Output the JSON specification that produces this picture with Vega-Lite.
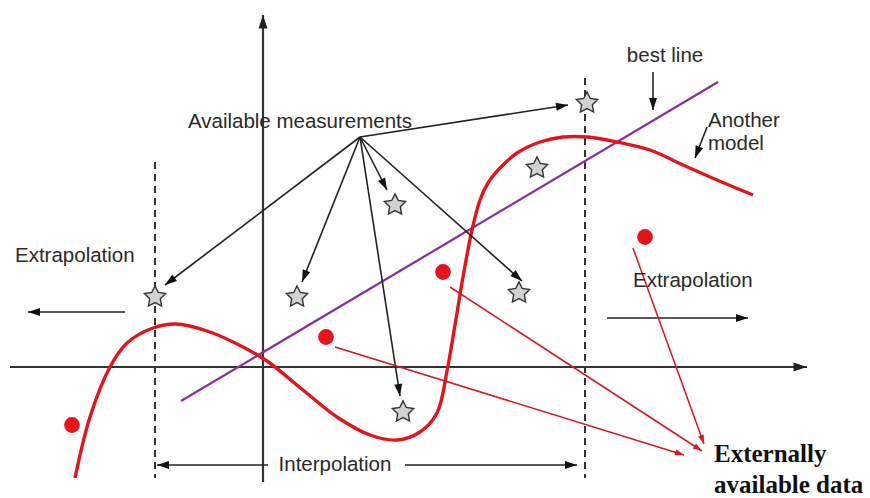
{
  "$schema": "https://vega.github.io/schema/vega-lite/v6.json",
  "autosize": {"type": "fit", "contains": "padding"},
  "width": 870,
  "height": 498,
  "padding": 0,
  "background": "white",
  "config": {"view": {"stroke": null}},
  "datasets": {
    "axes": [
      {"x": -253, "y": 0, "x2": 544, "y2": 0},
      {"x": 0, "y": -115, "x2": 0, "y2": 352}
    ],
    "guides": [
      {"x": -108, "y": 205, "y2": -111},
      {"x": 322, "y": 289, "y2": -111}
    ],
    "pointers": [
      {"x": 97, "y": 230, "x2": -98, "y2": 82},
      {"x": 97, "y": 230, "x2": 39, "y2": 85},
      {"x": 97, "y": 230, "x2": 124, "y2": 177},
      {"x": 97, "y": 230, "x2": 137, "y2": -29},
      {"x": 97, "y": 230, "x2": 259, "y2": 86},
      {"x": 97, "y": 230, "x2": 305, "y2": 262},
      {"x": 390, "y": 295, "x2": 390, "y2": 257},
      {"x": 444, "y": 240, "x2": 432, "y2": 209},
      {"x": 5, "y": -98, "x2": -106, "y2": -98},
      {"x": 142, "y": -98, "x2": 314, "y2": -98},
      {"x": -138, "y": 55, "x2": -235, "y2": 55},
      {"x": 344, "y": 49, "x2": 485, "y2": 49}
    ],
    "feeds": [
      {"x": 72, "y": 20, "x2": 421, "y2": -88},
      {"x": 187, "y": 80, "x2": 439, "y2": -84},
      {"x": 370, "y": 119, "x2": 441, "y2": -77}
    ],
    "trend": [
      {"x": -82, "y": -34, "x2": 455, "y2": 285}
    ],
    "model": [
      {"x": -188, "y": -111},
      {"x": -173, "y": -50},
      {"x": -153, "y": 0},
      {"x": -136, "y": 24},
      {"x": -110, "y": 39},
      {"x": -86, "y": 43},
      {"x": -53, "y": 35},
      {"x": -20, "y": 20},
      {"x": 4, "y": 6},
      {"x": 40, "y": -23},
      {"x": 74, "y": -50},
      {"x": 107, "y": -68},
      {"x": 134, "y": -73},
      {"x": 157, "y": -65},
      {"x": 174, "y": -46},
      {"x": 184, "y": -4},
      {"x": 192, "y": 42},
      {"x": 200, "y": 90},
      {"x": 209, "y": 137},
      {"x": 217, "y": 167},
      {"x": 225, "y": 184},
      {"x": 237, "y": 199},
      {"x": 254, "y": 214},
      {"x": 277, "y": 225},
      {"x": 300, "y": 230},
      {"x": 324, "y": 230},
      {"x": 354, "y": 225},
      {"x": 387, "y": 217},
      {"x": 420, "y": 202},
      {"x": 454, "y": 187},
      {"x": 490, "y": 172}
    ],
    "measurements": [
      {"x": -108, "y": 70},
      {"x": 34, "y": 70},
      {"x": 140, "y": -45},
      {"x": 256, "y": 74},
      {"x": 274, "y": 199},
      {"x": 324, "y": 264},
      {"x": 132, "y": 162}
    ],
    "external": [
      {"x": -191, "y": -58},
      {"x": 63, "y": 30},
      {"x": 180, "y": 95},
      {"x": 382, "y": 130}
    ],
    "centerLabels": [
      {"x": 37, "y": 239, "label": "Available measurements"},
      {"x": 402, "y": 305, "label": "best line"},
      {"x": 72, "y": -104, "label": "Interpolation"}
    ],
    "leftLabels": [
      {"x": -248, "y": 105, "label": "Extrapolation"},
      {"x": 370, "y": 80, "label": "Extrapolation"},
      {"x": 445, "y": 240, "label": "Another"},
      {"x": 445, "y": 217, "label": "model"}
    ],
    "callout": [
      {"x": 451, "y": -95, "label": "Externally"},
      {"x": 451, "y": -126, "label": "available data"}
    ]
  },
  "encoding": {
    "x": {"field": "x", "type": "quantitative", "axis": null,
          "scale": {"domain": [-263, 607], "nice": false, "zero": false}},
    "y": {"field": "y", "type": "quantitative", "axis": null,
          "scale": {"domain": [-131, 367], "nice": false, "zero": false}}
  },
  "layer": [
    {
      "data": {"name": "guides"},
      "mark": {"type": "rule", "color": "#333333", "strokeWidth": 2, "strokeDash": [7, 5]},
      "encoding": {"y2": {"field": "y2"}}
    },
    {
      "data": {"name": "axes"},
      "transform": [{"calculate": "atan2(datum.x2 - datum.x, datum.y2 - datum.y) * 180 / PI", "as": "heading"}],
      "layer": [
        {
          "mark": {"type": "rule", "color": "#333333", "strokeWidth": 2.2},
          "encoding": {"x2": {"field": "x2"}, "y2": {"field": "y2"}}
        },
        {
          "mark": {"type": "point", "shape": "M0,0L0.5,1.5L-0.5,1.5Z", "filled": true, "opacity": 1, "color": "#222222", "size": 324},
          "encoding": {
            "x": {"field": "x2", "type": "quantitative"},
            "y": {"field": "y2", "type": "quantitative"},
            "angle": {"field": "heading", "type": "quantitative", "scale": null}
          }
        }
      ]
    },
    {
      "data": {"name": "trend"},
      "mark": {"type": "rule", "color": "#8b2c9e", "strokeWidth": 2.2},
      "encoding": {"x2": {"field": "x2"}, "y2": {"field": "y2"}}
    },
    {
      "data": {"name": "model"},
      "mark": {"type": "line", "color": "#e3141b", "strokeWidth": 3.4, "interpolate": "catmull-rom"},
      "encoding": {}
    },
    {
      "data": {"name": "pointers"},
      "transform": [{"calculate": "atan2(datum.x2 - datum.x, datum.y2 - datum.y) * 180 / PI", "as": "heading"}],
      "layer": [
        {
          "mark": {"type": "rule", "color": "#222222", "strokeWidth": 1.6},
          "encoding": {"x2": {"field": "x2"}, "y2": {"field": "y2"}}
        },
        {
          "mark": {"type": "point", "shape": "M0,0L0.5,1.5L-0.5,1.5Z", "filled": true, "opacity": 1, "color": "#111111", "size": 256},
          "encoding": {
            "x": {"field": "x2", "type": "quantitative"},
            "y": {"field": "y2", "type": "quantitative"},
            "angle": {"field": "heading", "type": "quantitative", "scale": null}
          }
        }
      ]
    },
    {
      "data": {"name": "feeds"},
      "transform": [{"calculate": "atan2(datum.x2 - datum.x, datum.y2 - datum.y) * 180 / PI", "as": "heading"}],
      "layer": [
        {
          "mark": {"type": "rule", "color": "#d9161d", "strokeWidth": 1.5},
          "encoding": {"x2": {"field": "x2"}, "y2": {"field": "y2"}}
        },
        {
          "mark": {"type": "point", "shape": "M0,0L0.5,1.5L-0.5,1.5Z", "filled": true, "opacity": 1, "color": "#d9161d", "size": 144},
          "encoding": {
            "x": {"field": "x2", "type": "quantitative"},
            "y": {"field": "y2", "type": "quantitative"},
            "angle": {"field": "heading", "type": "quantitative", "scale": null}
          }
        }
      ]
    },
    {
      "data": {"name": "measurements"},
      "mark": {
        "type": "point",
        "shape": "M0,-1L0.294,-0.405L0.951,-0.309L0.476,0.155L0.588,0.809L0,0.5L-0.588,0.809L-0.476,0.155L-0.951,-0.309L-0.294,-0.405Z",
        "filled": true, "opacity": 1, "fill": "#d2d2d2", "stroke": "#333333", "strokeWidth": 1.4, "size": 500
      },
      "encoding": {}
    },
    {
      "data": {"name": "external"},
      "mark": {"type": "circle", "color": "#e3141b", "opacity": 1, "size": 250},
      "encoding": {}
    },
    {
      "data": {"name": "centerLabels"},
      "mark": {"type": "text", "font": "Liberation Sans", "fontSize": 20.5, "color": "#2a2a2a", "align": "center", "baseline": "alphabetic"},
      "encoding": {"text": {"field": "label"}}
    },
    {
      "data": {"name": "leftLabels"},
      "mark": {"type": "text", "font": "Liberation Sans", "fontSize": 20.5, "color": "#2a2a2a", "align": "left", "baseline": "alphabetic"},
      "encoding": {"text": {"field": "label"}}
    },
    {
      "data": {"name": "callout"},
      "mark": {"type": "text", "font": "Liberation Serif", "fontWeight": "bold", "fontSize": 25, "color": "#111111", "align": "left", "baseline": "alphabetic"},
      "encoding": {"text": {"field": "label"}}
    }
  ]
}
